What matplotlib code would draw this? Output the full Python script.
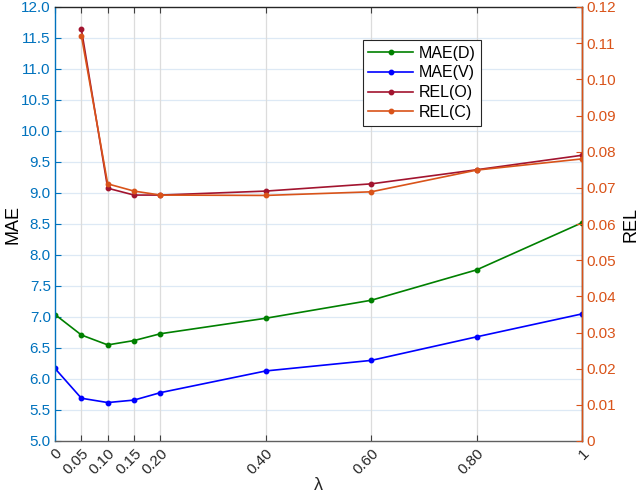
import matplotlib
matplotlib.use("Agg")
import matplotlib.pyplot as plt
import numpy as np

plt.rcParams['font.family'] = ['Liberation Sans', 'DejaVu Sans']

lam = [0, 0.05, 0.10, 0.15, 0.20, 0.40, 0.60, 0.80, 1.0]
xtick_labels = ['0', '0.05', '0.10', '0.15', '0.20', '0.40', '0.60', '0.80', '1']
mae_d = [7.04, 6.71, 6.55, 6.62, 6.73, 6.98, 7.27, 7.76, 8.52]
mae_v = [6.17, 5.69, 5.62, 5.66, 5.78, 6.13, 6.30, 6.68, 7.05]
lam_rel = [0.05, 0.10, 0.15, 0.20, 0.40, 0.60, 0.80, 1.0]
rel_o = [0.1139, 0.0699, 0.0680, 0.0680, 0.0691, 0.0711, 0.0750, 0.0790]
rel_c = [0.1121, 0.0711, 0.0691, 0.0680, 0.0679, 0.0689, 0.0749, 0.0780]

blue_ax = '#0072BD'
orange_ax = '#D95319'

fig = plt.figure(figsize=(6.42, 4.96), dpi=100)
ax = fig.add_axes([55/642, 55/496, 527/642, 434/496])
ax2 = ax.twinx()

ax.set_xlim(0, 1)
ax.set_ylim(5, 12)
ax2.set_ylim(0, 0.12)

# grid
for y in np.arange(5.5, 12, 0.5):
    ax.axhline(y, color='#dde9f5', lw=0.9, zorder=0)
for x in lam[1:-1]:
    ax.axvline(x, color='#dcdcdc', lw=0.9, zorder=0)

l1, = ax.plot(lam, mae_d, '-o', color='#008000', lw=1.2, ms=3.2, label='MAE(D)')
l2, = ax.plot(lam, mae_v, '-o', color='#0000FF', lw=1.2, ms=3.2, label='MAE(V)')
l3, = ax2.plot(lam_rel, rel_o, '-o', color='#A2142F', lw=1.2, ms=3.2, label='REL(O)')
l4, = ax2.plot(lam_rel, rel_c, '-o', color='#D95319', lw=1.2, ms=3.2, label='REL(C)')

ax.set_xticks(lam)
ax.set_xticklabels(xtick_labels, rotation=45, ha='right', rotation_mode='anchor',
                   color='#262626', fontsize=11)
ax.set_yticks(np.arange(5, 12.01, 0.5))
ax.set_yticklabels(['%.1f' % v for v in np.arange(5, 12.01, 0.5)], color=blue_ax, fontsize=11)
ax2.set_yticks(np.arange(0, 0.1201, 0.01))
ax2.set_yticklabels(['0'] + ['%.2f' % v for v in np.arange(0.01, 0.1201, 0.01)],
                    color=orange_ax, fontsize=11)

ax.tick_params(axis='x', direction='in', top=True, length=4, color='#404040', pad=4)
ax.tick_params(axis='y', direction='in', length=4, color=blue_ax, pad=3)
ax2.tick_params(axis='y', direction='in', length=4, color=orange_ax, pad=3)

ax.spines['left'].set_color(blue_ax)
ax.spines['bottom'].set_color('#606060')
ax.spines['top'].set_color('#262626')
ax2.spines['left'].set_visible(False)
ax2.spines['right'].set_color(orange_ax)
ax2.spines['top'].set_visible(False)
ax2.spines['bottom'].set_visible(False)
for s in ax.spines.values():
    s.set_linewidth(1.0)
ax2.spines['right'].set_linewidth(1.0)

ax.set_xlabel('λ', fontsize=13, color='#262626', labelpad=0)
ax.set_ylabel('MAE', fontsize=13, color='#000000')
ax.yaxis.set_label_coords(-0.063, 0.5)
ax2.set_ylabel('REL', fontsize=13, color='#000000', labelpad=5)

leg = ax2.legend(handles=[l1, l2, l3, l4], loc='upper left',
                 bbox_to_anchor=(0.584, 0.924), borderaxespad=0,
                 fontsize=11.5, frameon=True,
                 fancybox=False, edgecolor='#262626', framealpha=1,
                 handlelength=2.8, handletextpad=0.35, borderpad=0.35,
                 labelspacing=0.3)
leg.get_frame().set_linewidth(0.8)

fig.savefig('out.png', dpi=100)
